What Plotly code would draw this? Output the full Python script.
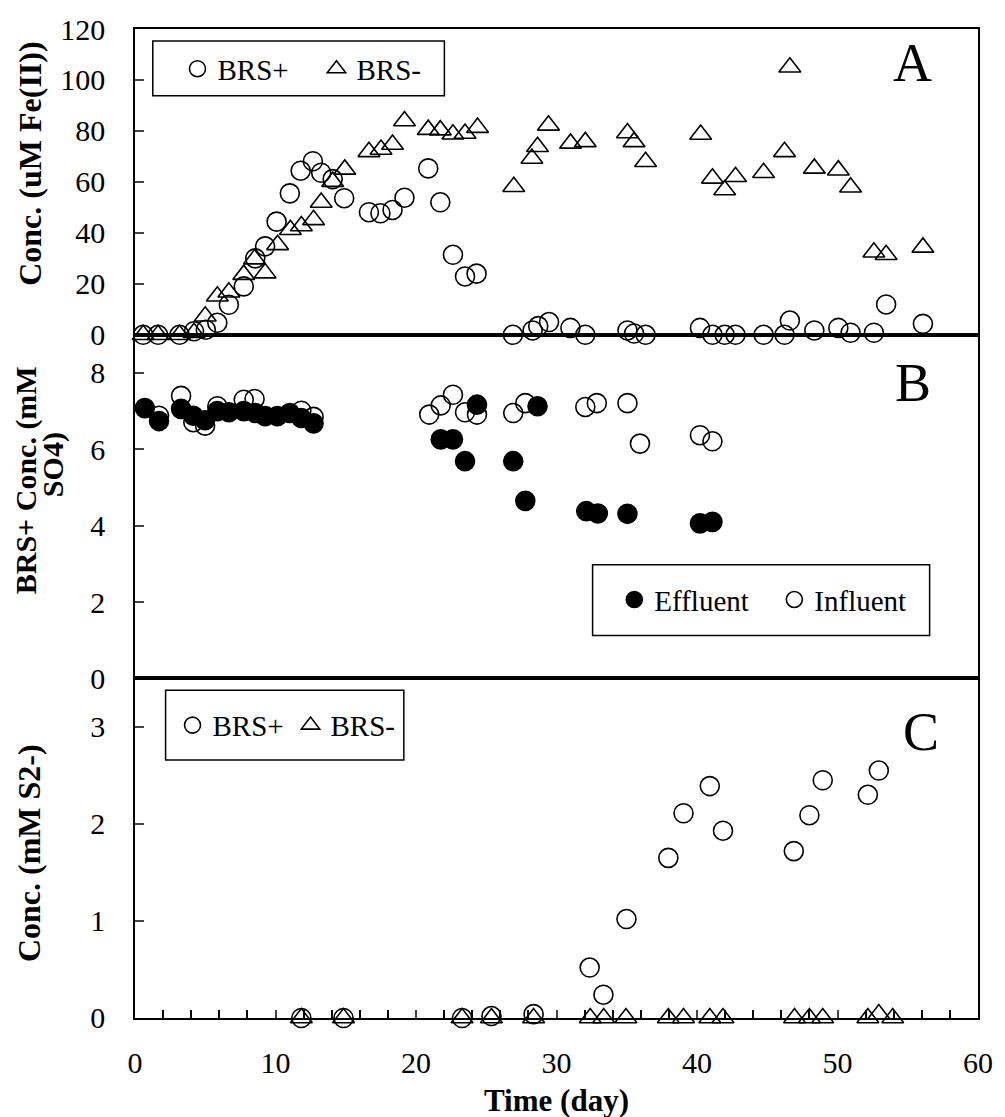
import plotly.graph_objects as go

# ---------------- Panel A : Fe(II) (uM) ----------------
a_brsp_day = [0.58, 1.64, 3.17, 4.2, 5.04, 5.86, 6.68, 7.74, 8.56, 9.26, 10.08, 11.02, 11.79, 12.66,
              13.25, 14.07, 14.89, 16.65, 17.47, 18.33, 19.18, 20.87, 21.73, 22.63, 23.49, 24.31,
              26.9, 28.3, 28.7, 29.47, 30.99, 32.05, 35.05, 35.52, 36.34, 40.21, 41.1, 41.97, 42.74,
              44.74, 46.23, 46.61, 48.35, 50.06, 50.93, 52.59, 53.46, 56.08]
a_brsp_fe = [0, 0, 0, 1.4, 2, 4.7, 11.8, 19, 30, 34.7, 44.4, 55.5, 64.4, 68.1,
             63.6, 61.1, 53.6, 48.1, 47.7, 49, 53.8, 65.3, 52, 31.4, 22.9, 24,
             0, 1.7, 3.4, 5, 2.7, 0, 1.7, 0.5, 0, 2.7, 0, 0, 0,
             0, 0, 5.6, 1.7, 2.7, 0.8, 0.8, 11.9, 4.3]

a_brsm_day = [0.58, 1.64, 3.17, 4.2, 5.0, 5.86, 6.68, 7.74, 8.51, 9.26, 10.15, 11.06, 11.84, 12.71,
              13.25, 14.07, 14.93, 16.65, 17.51, 18.33, 19.18, 20.87, 21.73, 22.63, 23.49, 24.38,
              26.96, 28.25, 28.65, 29.43, 31.0, 32.05, 35.05, 35.52, 36.34, 40.26, 41.1, 41.97,
              42.74, 44.74, 46.23, 46.61, 48.35, 50.06, 50.93, 52.59, 53.46, 56.08]
a_brsm_fe = [0, 0, 0, 0.8, 7.3, 15.1, 16.7, 23.6, 29.7, 24.2, 35.3, 41.2, 42.7, 45.1,
             51.9, 60.1, 64.9, 71.8, 72.7, 74.7, 83.9, 80.5, 80.3, 78.7, 79, 81.3,
             58.1, 69.2, 73.8, 82.2, 75.1, 75.7, 79.2, 75.7, 67.9, 78.6, 61.4, 56.8,
             62, 63.6, 71.8, 105, 65.3, 64.6, 57.9, 32.4, 31.4, 34.3]

# ---------------- Panel B : BRS+ sulfate (mM) ----------------
b_eff_day = [0.70, 1.71, 3.28, 4.15, 4.99, 5.86, 6.68, 7.74, 8.56, 9.26, 10.13, 11.02, 11.84, 12.71,
             21.76, 22.63, 23.49, 24.34, 26.92, 27.78, 28.65, 32.12, 32.94, 35.05, 40.21, 41.1]
b_eff_so4 = [7.08, 6.74, 7.06, 6.88, 6.76, 7.0, 6.97, 7.0, 6.95, 6.87, 6.87, 6.95, 6.82, 6.68,
             6.26, 6.26, 5.69, 7.17, 5.69, 4.65, 7.13, 4.38, 4.32, 4.31, 4.06, 4.1]

b_inf_day = [1.71, 3.28, 4.15, 4.99, 5.86, 7.74, 8.51, 11.84, 12.71,
             20.94, 21.76, 22.63, 23.49, 24.34, 26.92, 27.78,
             32.05, 32.87, 35.05, 35.94, 40.21, 41.1]
b_inf_so4 = [6.88, 7.4, 6.71, 6.62, 7.13, 7.3, 7.32, 7.01, 6.85,
             6.91, 7.15, 7.43, 6.97, 6.91, 6.95, 7.21,
             7.11, 7.21, 7.21, 6.15, 6.37, 6.21]

# ---------------- Panel C : sulfide (mM) ----------------
c_brsp_day = [11.84, 14.84, 23.28, 25.37, 28.37, 32.36, 33.34, 34.98, 37.96, 39.04, 40.91, 41.85,
              46.89, 48.0, 48.95, 52.16, 52.94]
c_brsp_s = [0.0, 0.0, 0.0, 0.02, 0.04, 0.52, 0.24, 1.02, 1.65, 2.11, 2.39, 1.93,
            1.72, 2.09, 2.45, 2.30, 2.55]

c_brsm_day = [11.84, 14.84, 23.28, 25.37, 28.37, 32.4, 33.36, 34.94, 37.96, 39.04, 40.91, 41.85,
              46.94, 48.0, 48.95, 52.16, 52.94, 53.93]
c_brsm_s = [0, 0, 0, 0, 0, 0, 0, 0, 0, 0, 0, 0,
            0, 0, 0, 0, 0.04, 0]

FONT = "Liberation Serif"
MS = 19
LW = 1.6

fig = go.Figure()

def add(x, y, name, symbol, xa, ya, legend, rank):
    marker = dict(symbol=symbol, size=MS, color="black", line=dict(color="black", width=LW))
    fig.add_trace(go.Scatter(x=x, y=y, mode="markers", name=name, marker=marker,
                             xaxis=xa, yaxis=ya, legend=legend, cliponaxis=False,
                             legendrank=rank))

add(a_brsp_day, a_brsp_fe, "BRS+", "circle-open", "x", "y", "legend", 1)
add(a_brsm_day, a_brsm_fe, "BRS-", "triangle-up-open", "x", "y", "legend", 2)
add(b_inf_day, b_inf_so4, "Influent", "circle-open", "x2", "y2", "legend2", 2)
add(b_eff_day, b_eff_so4, "Effluent", "circle", "x2", "y2", "legend2", 1)
add(c_brsp_day, c_brsp_s, "BRS+", "circle-open", "x3", "y3", "legend3", 1)
add(c_brsm_day, c_brsm_s, "BRS-", "triangle-up-open", "x3", "y3", "legend3", 2)

line = dict(showline=True, linecolor="black", linewidth=1.5, mirror=True,
            showgrid=False, zeroline=False)
tickf = dict(family=FONT, size=30, color="black")
titlef = dict(family=FONT, size=32, color="black")
legf = dict(family=FONT, size=29, color="black")

dA = [0.6908, 1.0]
dB = [0.3434, 0.6908]
dC = [0.0, 0.3434]

def leg(x, y, ew):
    return dict(x=x, y=y, xanchor="left", yanchor="middle", orientation="h",
                borderwidth=0, bgcolor="rgba(0,0,0,0)", font=legf, itemsizing="trace",
                entrywidth=ew, entrywidthmode="pixels")

def box(x0, x1, y0, y1):
    return dict(type="rect", xref="paper", yref="paper", x0=x0, x1=x1, y0=y0, y1=y1,
                line=dict(color="black", width=1.5), fillcolor="rgba(0,0,0,0)", layer="above")

def letter(t, x, y):
    return dict(text=t, x=x, y=y, xref="paper", yref="paper", showarrow=False,
                xanchor="center", yanchor="middle",
                font=dict(family=FONT, size=54, color="black"))

def ytitle(t, x, y, size=32):
    return dict(text=t, x=x, y=y, xref="paper", yref="paper", showarrow=False,
                xanchor="center", yanchor="middle", textangle=-90, align="center",
                font=dict(family=FONT, size=size, color="black"))

fig.update_layout(
    width=1005, height=1117,
    margin=dict(l=135, r=17, t=25, b=99),
    paper_bgcolor="white", plot_bgcolor="white",
    font=dict(family=FONT, color="black"),
    xaxis=dict(domain=[0, 1], anchor="y", range=[0, 60], showticklabels=False, ticks="", **line),
    yaxis=dict(domain=dA, anchor="x", range=[0, 120], tickvals=[0, 20, 40, 60, 80, 100, 120],
               ticks="inside", ticklen=9, tickwidth=1.5, tickfont=tickf, ticklabelstandoff=22, **line),
    xaxis2=dict(domain=[0, 1], anchor="y2", range=[0, 60], showticklabels=False, ticks="", **line),
    yaxis2=dict(domain=dB, anchor="x2", range=[0, 9], tickvals=[0, 2, 4, 6, 8],
                ticks="inside", ticklen=9, tickwidth=1.5, tickfont=tickf, ticklabelstandoff=22, **line),
    xaxis3=dict(domain=[0, 1], anchor="y3", range=[0, 60], tickvals=[0, 10, 20, 30, 40, 50, 60],
                ticks="inside", ticklen=8, tickwidth=1.5, tickfont=tickf, ticklabelstandoff=17,
                minor=dict(dtick=2, ticks="inside", ticklen=8, tickwidth=1.5, tickcolor="black"),
                **line),
    yaxis3=dict(domain=dC, anchor="x3", range=[0, 3.5], tickvals=[0, 1, 2, 3],
                ticks="inside", ticklen=9, tickwidth=1.5, tickfont=tickf, ticklabelstandoff=22, **line),
    legend=leg(0.0504, 0.9597, 94),
    legend2=leg(0.5686, 0.423, 115),
    legend3=leg(0.0445, 0.296, 73),
    shapes=[
        box(0.0211, 0.367, 0.9325, 0.9879),
        box(0.5428, 0.9426, 0.3867, 0.4582),
        box(0.0363, 0.3189, 0.2608, 0.3313),
    ],
    annotations=[
        letter("A", 0.9226, 0.9657),
        letter("B", 0.9226, 0.6425),
        letter("C", 0.9320, 0.289),
        ytitle("<b>Conc. (uM Fe(II))</b>", -0.1254, 0.864),
        ytitle("<b>BRS+ Conc. (mM</b>", -0.1290, 0.544, 30),
        ytitle("<b>SO4)</b>", -0.0973, 0.560, 30),
        ytitle("<b>Conc. (mM S2-)</b>", -0.1254, 0.167),
        dict(text="<b>Time (day)</b>", x=0.5, y=-0.0836, xref="paper", yref="paper",
             showarrow=False, xanchor="center", yanchor="middle",
             font=dict(family=FONT, size=31, color="black")),
    ],
)

fig.write_html("out.html")
